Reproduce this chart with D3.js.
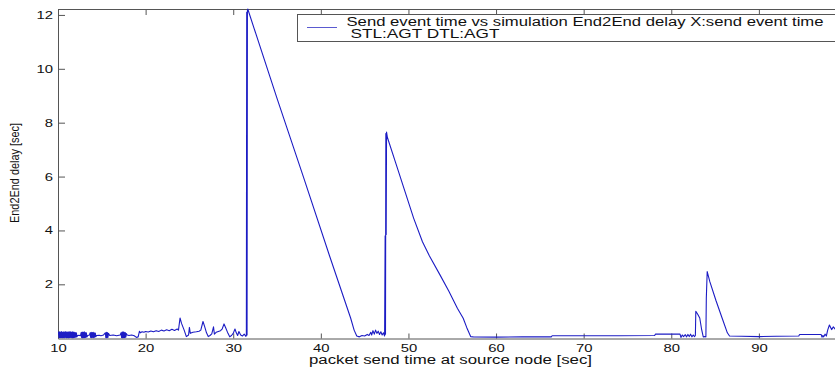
<!DOCTYPE html>
<html>
<head>
<meta charset="utf-8">
<script src="https://cdn.jsdelivr.net/npm/d3@7"></script>
<style>
  body { margin: 0; background: #fff; }
  text { font-family: "Liberation Sans", Arial, sans-serif; }
</style>
</head>
<body>
<div id="chart"></div>
<script>
// send time [sec] of each packet and its end-to-end delay [sec]
const sendTime = [
  10.00, 10.06, 10.12, 10.18, 10.24, 10.30, 10.36, 10.42, 10.48, 10.54, 10.60, 10.66, 10.72,
  10.78, 10.84, 10.90, 10.96, 11.02, 11.08, 11.14, 11.20, 11.26, 11.32, 11.38, 11.44, 11.50,
  11.56, 11.62, 11.68, 11.74, 11.80, 11.86, 11.92, 11.98, 12.04, 12.10, 12.16, 12.24, 12.40,
  12.56, 12.64, 12.70, 12.76, 12.82, 12.88, 12.94, 13.00, 13.06, 13.12, 13.18, 13.24, 13.30,
  13.40, 13.60, 13.66, 13.72, 13.78, 13.84, 13.90, 13.96, 14.02, 14.08, 14.14, 14.20, 14.26,
  14.32, 14.40, 14.70, 14.90, 15.20, 15.40, 15.46, 15.52, 15.58, 15.64, 15.70, 15.76, 15.90,
  16.30, 16.70, 17.10, 17.20, 17.26, 17.32, 17.38, 17.44, 17.50, 17.56, 17.62, 17.68, 17.74,
  17.80, 17.90, 18.10, 18.40, 18.70, 18.95, 19.15,
  19.30, 19.40, 19.60, 19.80, 20.00, 20.30, 20.60, 20.90, 21.20, 21.50, 21.80, 22.10, 22.40,
  22.70, 23.00, 23.30, 23.60, 23.75, 23.93, 24.10, 24.40, 24.65, 24.90, 25.00, 25.10, 25.40,
  25.80, 26.10, 26.30, 26.55, 26.75, 26.95, 27.15, 27.35, 27.55, 27.75, 27.85, 28.05, 28.30,
  28.55, 28.75, 28.95, 29.15, 29.40, 29.60, 29.80, 30.00, 30.20, 30.35, 30.50, 30.65, 30.85,
  31.05, 31.25, 31.45, 31.50, 31.54, 31.58, 31.62, 31.66,
  35.00, 38.00, 41.00, 43.40, 43.80, 44.10,
  44.40, 44.70, 45.00, 45.30, 45.50, 45.70, 45.80, 45.95, 46.10, 46.25, 46.40, 46.55, 46.70,
  46.85, 47.00, 47.15, 47.28, 47.34, 47.38, 47.42, 47.46, 47.50,
  47.60, 48.60, 49.60, 50.60, 51.60, 52.40, 53.60, 54.60, 55.60, 56.25, 56.65, 57.10, 57.40,
  60.00, 63.00, 66.30, 66.40, 70.00, 74.00, 78.10, 78.20, 81.00, 81.10, 81.25, 81.40, 81.60,
  81.75, 81.90, 82.05, 82.20, 82.35, 82.50, 82.65, 82.75, 82.80, 83.00, 83.25, 83.45, 83.65,
  83.85, 83.95, 84.00, 84.10, 84.40, 85.10, 85.80, 86.40, 86.65, 88.00, 90.00, 92.00, 94.55,
  94.65, 97.10, 97.20, 97.30, 97.40, 97.55, 97.70, 97.85, 98.05, 98.30, 98.50, 98.80
];
const e2eDelay = [
  0.14, 0.23, 0.02, 0.24, 0.01, 0.23, 0.02, 0.25, 0.01, 0.22, 0.02, 0.24, 0.01,
  0.23, 0.03, 0.25, 0.01, 0.22, 0.02, 0.24, 0.01, 0.23, 0.02, 0.25, 0.03, 0.22,
  0.02, 0.24, 0.01, 0.23, 0.02, 0.22, 0.03, 0.21, 0.04, 0.20, 0.05, 0.10, 0.11,
  0.09, 0.21, 0.02, 0.23, 0.01, 0.22, 0.02, 0.24, 0.02, 0.21, 0.03, 0.20, 0.05,
  0.10, 0.12, 0.20, 0.03, 0.22, 0.02, 0.21, 0.03, 0.22, 0.02, 0.20, 0.04, 0.19,
  0.06, 0.10, 0.11, 0.09, 0.12, 0.20, 0.02, 0.22, 0.01, 0.21, 0.03, 0.18, 0.10,
  0.12, 0.09, 0.12, 0.20, 0.02, 0.23, 0.01, 0.24, 0.02, 0.22, 0.02, 0.21, 0.04,
  0.17, 0.12, 0.10, 0.12, 0.09, 0.03, 0.05,
  0.26, 0.20, 0.24, 0.22, 0.25, 0.23, 0.27, 0.24, 0.28, 0.25, 0.30, 0.27, 0.31,
  0.28, 0.33, 0.29, 0.34, 0.30, 0.75, 0.55, 0.30, 0.06, 0.12, 0.40, 0.18, 0.22,
  0.24, 0.26, 0.30, 0.62, 0.42, 0.20, 0.06, 0.10, 0.16, 0.42, 0.15, 0.22, 0.25,
  0.28, 0.35, 0.53, 0.38, 0.18, 0.05, 0.10, 0.18, 0.34, 0.20, 0.10, 0.25, 0.12,
  0.08, 0.15, 0.07, 0.10, 12.10, 0.12, 12.15, 12.22,
  8.90, 6.00, 3.05, 0.75, 0.30, 0.08,
  0.05, 0.10, 0.08, 0.14, 0.10, 0.22, 0.12, 0.28, 0.15, 0.30, 0.18, 0.26, 0.14,
  0.24, 0.12, 0.20, 0.08, 3.80, 0.15, 7.60, 3.85, 7.65,
  7.45, 6.45, 5.45, 4.45, 3.58, 3.05, 2.35, 1.75, 1.10, 0.74, 0.40, 0.06, 0.05,
  0.04, 0.05, 0.05, 0.09, 0.09, 0.09, 0.10, 0.15, 0.15, 0.03, 0.12, 0.06, 0.13,
  0.05, 0.14, 0.06, 0.15, 0.05, 0.12, 0.06, 0.10, 1.00, 0.90, 0.75, 0.35, 0.05,
  0.06, 0.05, 1.50, 2.47, 2.10, 1.40, 0.75, 0.20, 0.08, 0.07, 0.06, 0.07, 0.08,
  0.14, 0.14, 0.04, 0.10, 0.05, 0.15, 0.08, 0.30, 0.49, 0.32, 0.42, 0.30
];
const xTicks = [10, 20, 30, 40, 50, 60, 70, 80, 90];
const yTicks = [2, 4, 6, 8, 10, 12];
const legendLines = [
  "Send event time vs simulation End2End delay X:send event time",
  "STL:AGT DTL:AGT"
];

const width = 835, height = 371;
const margin = {top: 9, left: 58, bottom: 338.5};
const plotRight = 846.5; // axis runs a bit past the picture edge

const svg = d3.select("#chart").append("svg")
  .attr("width", width)
  .attr("height", height);

svg.append("rect").attr("width", width).attr("height", height).attr("fill", "#fff");

const x = d3.scaleLinear().domain([10, 100]).range([margin.left, plotRight]);
const y = d3.scaleLinear().domain([0, 12.22]).range([338.2, margin.top]);

const axisColor = "#555";
const stretch = 1.35;

// bottom axis, ticks pointing inwards
const gx = svg.append("g")
  .attr("transform", `translate(0,${margin.bottom})`)
  .call(d3.axisBottom(x).tickValues(xTicks).tickSizeInner(-5).tickSizeOuter(0).tickFormat(d3.format("d")));
gx.selectAll("text")
  .attr("y", 13.5).attr("dy", null)
  .attr("transform", `scale(${stretch},1)`)
  .style("font-size", "11px").attr("fill", "#111");

const gxTop = svg.append("g")
  .attr("transform", `translate(0,${margin.top})`)
  .call(d3.axisTop(x).tickValues(xTicks).tickSizeInner(-6).tickSizeOuter(0).tickFormat(""));

const gy = svg.append("g")
  .attr("transform", `translate(${margin.left},0)`)
  .call(d3.axisLeft(y).tickValues(yTicks).tickSizeInner(-7).tickSizeOuter(0));
gy.selectAll("text")
  .attr("x", -5 / stretch)
  .attr("transform", `scale(${stretch},1)`)
  .style("font-size", "11px").attr("fill", "#111");

[gx, gxTop, gy].forEach(g => {
  g.select(".domain").attr("stroke", axisColor);
  g.selectAll(".tick line").attr("stroke", axisColor);
});

// data line
svg.append("clipPath").attr("id", "plot-clip")
  .append("rect")
  .attr("x", margin.left).attr("y", margin.top - 1)
  .attr("width", plotRight - margin.left).attr("height", margin.bottom - margin.top + 1);

const line = d3.line()
  .x((d, i) => x(sendTime[i]))
  .y((d, i) => y(e2eDelay[i]));

svg.append("path")
  .datum(e2eDelay)
  .attr("clip-path", "url(#plot-clip)")
  .attr("fill", "none")
  .attr("stroke", "#1c1cc4")
  .attr("stroke-width", 1.1)
  .attr("stroke-linejoin", "round")
  .attr("d", line);

// legend
const legend = svg.append("g");
legend.append("rect")
  .attr("x", 297.5).attr("y", 14.5)
  .attr("width", 560).attr("height", 27)
  .attr("fill", "#fff").attr("stroke", axisColor);
legend.append("line")
  .attr("x1", 307).attr("x2", 337).attr("y1", 27.5).attr("y2", 27.5)
  .attr("stroke", "#5a5ad0").attr("stroke-width", 1);
legend.selectAll("text.entry")
  .data(legendLines)
  .join("text")
  .attr("class", "entry")
  .attr("x", (d, i) => i ? 350.5 : 346.5)
  .attr("y", (d, i) => i ? 38 : 25.5)
  .attr("textLength", (d, i) => i ? 149 : 477)
  .attr("lengthAdjust", "spacingAndGlyphs")
  .style("font-size", "12px")
  .attr("fill", "#111")
  .text(d => d);

// axis titles
svg.append("text")
  .attr("x", 309).attr("y", 364)
  .attr("textLength", 283).attr("lengthAdjust", "spacingAndGlyphs")
  .style("font-size", "12px").attr("fill", "#111")
  .text("packet send time at source node [sec]");

svg.append("text")
  .attr("transform", "translate(19,173) rotate(-90)")
  .attr("text-anchor", "middle")
  .attr("textLength", 100).attr("lengthAdjust", "spacingAndGlyphs")
  .style("font-size", "12px").attr("fill", "#111")
  .text("End2End delay [sec]");
</script>
</body>
</html>
